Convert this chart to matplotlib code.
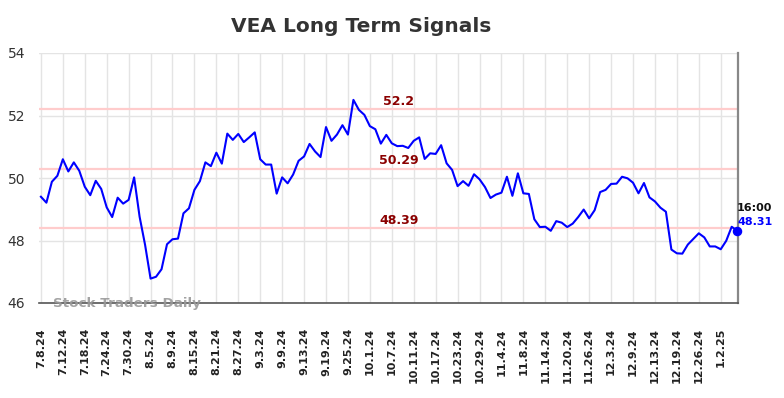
import matplotlib
matplotlib.use("Agg")
import matplotlib.pyplot as plt
import numpy as np

tick_labels = ['7.8.24', '7.12.24', '7.18.24', '7.24.24', '7.30.24', '8.5.24', '8.9.24',
               '8.15.24', '8.21.24', '8.27.24', '9.3.24', '9.9.24', '9.13.24', '9.19.24',
               '9.25.24', '10.1.24', '10.7.24', '10.11.24', '10.17.24', '10.23.24',
               '10.29.24', '11.4.24', '11.8.24', '11.14.24', '11.20.24', '11.26.24',
               '12.3.24', '12.9.24', '12.13.24', '12.19.24', '12.26.24', '1.2.25']

prices = [49.40, 49.21, 49.88, 50.07, 50.60, 50.21, 50.50, 50.23, 49.72, 49.45,
          49.91, 49.65, 49.06, 48.75, 49.37, 49.18, 49.30, 50.02, 48.76, 47.86,
          46.78, 46.84, 47.08, 47.88, 48.04, 48.06, 48.87, 49.03, 49.62, 49.90,
          50.50, 50.38, 50.81, 50.46, 51.42, 51.22, 51.41, 51.15, 51.30, 51.46,
          50.60, 50.43, 50.43, 49.50, 50.02, 49.83, 50.11, 50.55, 50.69, 51.09,
          50.85, 50.67, 51.63, 51.19, 51.39, 51.69, 51.39, 52.50, 52.18, 52.02,
          51.66, 51.56, 51.10, 51.38, 51.11, 51.02, 51.03, 50.96, 51.19, 51.30,
          50.61, 50.79, 50.77, 51.05, 50.47, 50.26, 49.74, 49.90, 49.75, 50.12,
          49.96, 49.71, 49.36, 49.47, 49.53, 50.04, 49.43, 50.15, 49.51, 49.49,
          48.68, 48.43, 48.44, 48.31, 48.62, 48.57, 48.43, 48.54, 48.75, 48.99,
          48.71, 48.97, 49.55, 49.62, 49.81, 49.82, 50.04, 49.99, 49.85, 49.51,
          49.84, 49.38, 49.25, 49.05, 48.92, 47.71, 47.59, 47.58, 47.87, 48.05,
          48.23, 48.10, 47.81, 47.81, 47.72, 47.99, 48.44, 48.31]

levels = [52.2, 50.29, 48.39]
last_time = '16:00'

x = np.arange(len(prices))

fig = plt.figure(figsize=(7.84, 3.98), dpi=100)
ax = fig.add_axes([39/784, 1 - 303/398, (738 - 39)/784, 250/398])

ax.set_xlim(-0.35, len(prices) - 1 + 0.15)
ax.set_ylim(46, 54)

ax.set_xticks(np.arange(0, len(tick_labels) * 4, 4))
ax.set_xticklabels(tick_labels, rotation=90, fontsize=8, fontweight='bold', color='#222222')
ax.set_yticks([46, 48, 50, 52, 54])
ax.set_yticklabels(['46', '48', '50', '52', '54'], fontsize=10, color='#333333')
ax.tick_params(axis='both', length=0)
ax.tick_params(axis='x', pad=18)
ax.tick_params(axis='y', pad=10)

ax.grid(True, color='#e4e4e4', linewidth=1)
ax.set_axisbelow(True)

for side in ['top', 'left']:
    ax.spines[side].set_visible(False)
ax.spines['bottom'].set_color('#555555')
ax.spines['bottom'].set_linewidth(1.2)
ax.spines['right'].set_color('#888888')
ax.spines['right'].set_linewidth(1.6)

for lv in levels:
    ax.axhline(lv, color='#ffcccc', linewidth=1.6, zorder=1)
    ax.text(65.3, lv + 0.26, f'{lv:g}', color='#8b0000', fontsize=9,
            fontweight='bold', ha='center', va='center')

ax.plot(x, prices, color='#0000ff', linewidth=1.5, zorder=3)
ax.scatter([x[-1]], [prices[-1]], s=34, color='#0000ff', zorder=4, clip_on=False)

ax.text(x[-1], prices[-1] + 0.72, last_time, fontsize=8, fontweight='bold',
        color='#111111', ha='left', va='center')
ax.text(x[-1], prices[-1] + 0.29, f'{prices[-1]:.2f}', fontsize=8, fontweight='bold',
        color='#0000ff', ha='left', va='center')

ax.text(2.2, 46.0, 'Stock Traders Daily', fontsize=9.7, fontweight='bold',
        color='#999999', alpha=0.9, ha='left', va='center')

fig.text(361/784, 1 - 26/398, 'VEA Long Term Signals', fontsize=14.5,
         fontweight='bold', color='#333333', ha='center', va='center')

fig.savefig('out.png', dpi=100)
